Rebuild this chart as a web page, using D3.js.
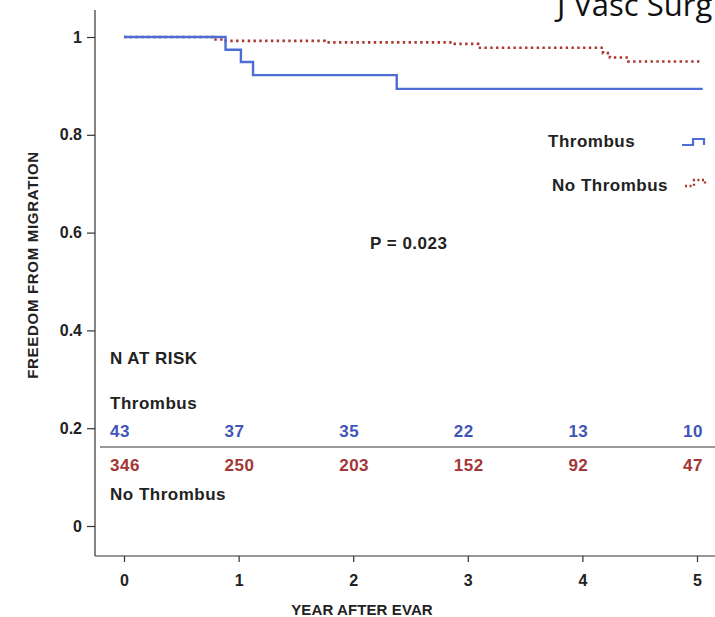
<!DOCTYPE html>
<html><head><meta charset="utf-8">
<script src="https://cdn.jsdelivr.net/npm/d3@7"></script>
<style>
body{margin:0;background:#fff;}
svg text{font-family:"Liberation Sans",Arial,Helvetica,sans-serif;font-weight:bold;fill:#222;}
</style></head>
<body><svg id="c" width="715" height="617"></svg>
<script>
const years = [0,1,2,3,4,5];
const yTicks = [0,0.2,0.4,0.6,0.8,1];
const thrombusTimes = [0,0.886,1.02,1.126,2.38];
const thrombusValues = [1,0.974,0.949,0.922,0.894];
const noThrombusTimes = [0,0.78,0.87,1.75,2.87,3.09,4.18,4.24,4.40];
const noThrombusValues = [1,0.995,0.992,0.989,0.986,0.978,0.967,0.958,0.950];
const endTime = 5.05;
const riskThrombus = [43,37,35,22,13,10];
const riskNoThrombus = [346,250,203,152,92,47];
const seriesNames = ["Thrombus","No Thrombus"];

const blue = "#4d6dd4", red = "#ad3530";
const blueTxt = "#3f55b8", redTxt = "#a33636";

const svg = d3.select("#c");
const x = d3.scaleLinear().domain([0,5]).range([124,697]);
const y = d3.scaleLinear().domain([0,1]).range([526,37]);

// axes lines
svg.append("line").attr("x1",95).attr("x2",95).attr("y1",10).attr("y2",556).attr("stroke","#333").attr("stroke-width",1.2);
svg.append("line").attr("x1",95).attr("x2",715).attr("y1",556).attr("y2",556).attr("stroke","#333").attr("stroke-width",1.2);

const yAxis = svg.append("g").attr("transform","translate(95,0)")
  .call(d3.axisLeft(y).tickValues(yTicks).tickSize(8).tickPadding(5)
    .tickFormat(d => d===0||d===1 ? String(d) : d3.format(".1f")(d)));
yAxis.select(".domain").remove();
yAxis.selectAll("line").attr("stroke","#333").attr("stroke-width",1.2);
yAxis.selectAll("text").style("font-size","16px").attr("fill","#222");

const xAxis = svg.append("g").attr("transform","translate(0,556)")
  .call(d3.axisBottom(x).tickValues(years).tickSize(6).tickPadding(13).tickFormat(d3.format("d")));
xAxis.select(".domain").remove();
xAxis.selectAll("line").attr("stroke","#333").attr("stroke-width",1.2);
xAxis.selectAll("text").style("font-size","16px").attr("fill","#222");

svg.append("text").attr("x",362).attr("y",615).attr("text-anchor","middle")
  .style("font-size","15px").style("letter-spacing","0.1px").text("YEAR AFTER EVAR");
svg.append("text").attr("transform","translate(38,265) rotate(-90)").attr("text-anchor","middle")
  .style("font-size","15px").style("letter-spacing","0.7px").text("FREEDOM FROM MIGRATION");

// curves
function pts(times, vals){
  const p = times.map((t,i)=>[t,vals[i]]);
  p.push([endTime, vals[vals.length-1]]);
  return p;
}
const line = d3.line().x(d=>x(d[0])).y(d=>y(d[1])).curve(d3.curveStepAfter);
svg.append("path").datum(pts(noThrombusTimes,noThrombusValues)).attr("d",line)
  .attr("fill","none").attr("stroke",red).attr("stroke-width",2.6).attr("stroke-dasharray","2.4,3.4");
svg.append("path").datum(pts(thrombusTimes,thrombusValues)).attr("d",line)
  .attr("fill","none").attr("stroke",blue).attr("stroke-width",2.4);

const T = {size:"17px", ls:"0.5px"};
function label(xp, yp, txt, col){
  return svg.append("text").attr("x",xp).attr("y",yp).style("font-size",T.size)
    .style("letter-spacing",T.ls).style("fill",col||"#222").text(txt);
}

// legend
label(548,147,seriesNames[0]);
label(552,191,seriesNames[1]);
svg.append("path").attr("d","M682,145H693V139H704V145").attr("fill","none").attr("stroke",blue).attr("stroke-width",2.2);
svg.append("path").attr("d","M685,186H694V180H705V185").attr("fill","none").attr("stroke",red).attr("stroke-width",2.4).attr("stroke-dasharray","2,2.6");

label(370,249,"P = 0.023");

// at risk table
label(110,364,"N AT RISK");
label(110,409,seriesNames[0]);
label(110,500,seriesNames[1]);
svg.append("line").attr("x1",100).attr("x2",715).attr("y1",447).attr("y2",447).attr("stroke","#333").attr("stroke-width",1.2);
svg.append("g").selectAll("text").data(riskThrombus).join("text")
  .attr("x",(d,i)=>x(years[i])-14).attr("y",437).style("font-size",T.size).style("letter-spacing",T.ls)
  .style("fill",blueTxt).text(d=>d);
svg.append("g").selectAll("text").data(riskNoThrombus).join("text")
  .attr("x",(d,i)=>x(years[i])-14).attr("y",471).style("font-size",T.size).style("letter-spacing",T.ls)
  .style("fill",redTxt).text(d=>d);

// journal tag (cut off at top edge in the reference)
svg.append("text").attr("x",557).attr("y",16).style("font-family","'Open Sans','DejaVu Sans',sans-serif")
  .style("font-weight","normal").style("font-size","31px").style("fill","#111").text("J Vasc Surg");
</script></body></html>
